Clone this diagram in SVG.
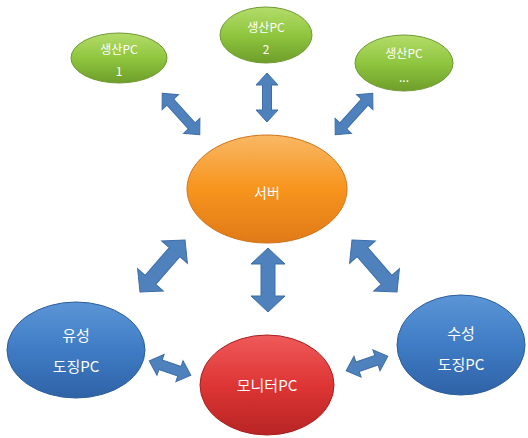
<svg xmlns="http://www.w3.org/2000/svg" width="528" height="438" viewBox="0 0 528 438">
<defs>
<linearGradient id="gG" x1="0" y1="0" x2="0" y2="1"><stop offset="0" stop-color="#b4dc6a"/><stop offset="0.5" stop-color="#8fc63f"/><stop offset="1" stop-color="#6e9e2a"/></linearGradient>
<linearGradient id="gO" x1="0" y1="0" x2="0" y2="1"><stop offset="0" stop-color="#f9b865"/><stop offset="0.5" stop-color="#f7941d"/><stop offset="1" stop-color="#e07a18"/></linearGradient>
<linearGradient id="gB" x1="0" y1="0" x2="0" y2="1"><stop offset="0" stop-color="#5b95d6"/><stop offset="0.5" stop-color="#3f7cc5"/><stop offset="1" stop-color="#2f62a6"/></linearGradient>
<linearGradient id="gR" x1="0" y1="0" x2="0" y2="1"><stop offset="0" stop-color="#ef5a5a"/><stop offset="0.5" stop-color="#de3535"/><stop offset="1" stop-color="#b82424"/></linearGradient>
<style>
.t{font-family:"Noto Sans CJK KR","Noto Sans",sans-serif;fill:#ffffff;text-anchor:middle;dominant-baseline:central}
.s{font-size:12px}
.m{font-size:15px}
.arr{fill:#4f81bd;stroke:#3d6ea8;stroke-width:1}
.gn{fill:url(#gG);stroke:#6e9a30;stroke-width:1}
</style>
</defs>
<g id="connectors">
<polygon class="arr" transform="translate(181,114) rotate(47.9)" points="-28,0 -16,-11 -16,-4.5 16,-4.5 16,-11 28,0 16,11 16,4.5 -16,4.5 -16,11"/>
<polygon class="arr" transform="translate(267,97.5) rotate(90)" points="-24.5,0 -12.5,-11 -12.5,-4.5 12.5,-4.5 12.5,-11 24.5,0 12.5,11 12.5,4.5 -12.5,4.5 -12.5,11"/>
<polygon class="arr" transform="translate(354,114) rotate(-47.9)" points="-28,0 -16,-11 -16,-4.5 16,-4.5 16,-11 28,0 16,11 16,4.5 -16,4.5 -16,11"/>
<polygon class="arr" transform="translate(162.5,266) rotate(130.9)" points="-34.4,0 -18.4,-17 -18.4,-7 18.4,-7 18.4,-17 34.4,0 18.4,17 18.4,7 -18.4,7 -18.4,17"/>
<polygon class="arr" transform="translate(268,280) rotate(90)" points="-32,0 -16,-17 -16,-7 16,-7 16,-17 32,0 16,17 16,7 -16,7 -16,17"/>
<polygon class="arr" transform="translate(374.5,266) rotate(49.1)" points="-34.4,0 -18.4,-17 -18.4,-7 18.4,-7 18.4,-17 34.4,0 18.4,17 18.4,7 -18.4,7 -18.4,17"/>
<polygon class="arr" transform="translate(170,368) rotate(19)" points="-22,0 -10,-11 -10,-5 10,-5 10,-11 22,0 10,11 10,5 -10,5 -10,11"/>
<polygon class="arr" transform="translate(367,363.5) rotate(-19)" points="-22,0 -10,-11 -10,-5 10,-5 10,-11 22,0 10,11 10,5 -10,5 -10,11"/>
</g>
<g id="prod1">
<ellipse class="gn" cx="119" cy="58" rx="48" ry="25"/>
<text class="t s" x="119" y="48">생산PC</text>
<text class="t s" x="119" y="70">1</text>
</g>
<g id="prod2">
<ellipse class="gn" cx="266" cy="35" rx="46" ry="28"/>
<text class="t s" x="266" y="26">생산PC</text>
<text class="t s" x="266" y="48">2</text>
</g>
<g id="prod3">
<ellipse class="gn" cx="404" cy="63" rx="49" ry="28"/>
<text class="t s" x="404" y="52">생산PC</text>
<text class="t s" x="404" y="76">...</text>
</g>
<g id="server">
<ellipse cx="267" cy="189" rx="80" ry="54" fill="url(#gO)" stroke="#d0741a" stroke-width="1"/>
<text class="t" x="267" y="192" font-size="14">서버</text>
</g>
<g id="oil">
<ellipse cx="76" cy="350" rx="69" ry="48" fill="url(#gB)" stroke="#2c5d9c" stroke-width="1"/>
<text class="t m" x="76" y="334">유성</text>
<text class="t m" x="76" y="365">도징PC</text>
</g>
<g id="monitor">
<ellipse cx="267" cy="385" rx="67" ry="50" fill="url(#gR)" stroke="#a82020" stroke-width="1"/>
<text class="t m" x="267" y="384">모니터PC</text>
</g>
<g id="water">
<ellipse cx="461" cy="345" rx="64" ry="50" fill="url(#gB)" stroke="#2c5d9c" stroke-width="1"/>
<text class="t m" x="461" y="332">수성</text>
<text class="t m" x="461" y="363">도징PC</text>
</g>
</svg>
